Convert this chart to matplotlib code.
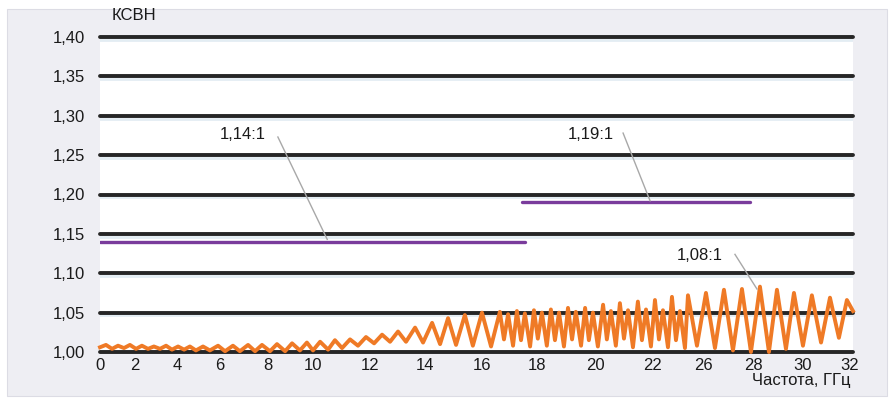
import numpy as np
import matplotlib
matplotlib.use("Agg")
import matplotlib.pyplot as plt
from matplotlib.patches import Rectangle

plt.rcParams['font.family'] = ['Liberation Sans Narrow', 'Liberation Sans', 'DejaVu Sans']

# ---------------- data ----------------
x_tick_values = [0, 2, 4, 6, 8, 10, 12, 14, 16, 18, 20, 22, 26, 28, 30, 32]
x_tick_labels = [str(v) for v in x_tick_values]
y_tick_values = [1.00, 1.05, 1.10, 1.15, 1.20, 1.25, 1.30, 1.35, 1.40]
y_tick_labels = ['1,00', '1,05', '1,10', '1,15', '1,20', '1,25', '1,30', '1,35', '1,40']

orange_freq = [
    0.0, 0.34, 0.69, 1.03, 1.37, 1.71, 2.05, 2.33, 2.62, 2.90, 3.19, 3.48, 3.76, 4.05, 4.33, 4.60, 4.88,
    5.21, 5.53, 5.91, 6.21, 6.54, 6.83, 7.17, 7.46, 7.75, 8.09, 8.40, 8.76, 9.07, 9.42, 9.73, 10.0,
    10.25, 10.53, 10.77, 11.02,
    11.30, 11.58, 11.86, 12.15, 12.44, 12.73, 13.02, 13.31, 13.64, 13.93, 14.25, 14.53, 14.81, 15.09,
    15.40, 15.68, 16.0, 16.33,
    16.65, 16.80, 16.95, 17.13, 17.27, 17.42, 17.56, 17.75, 17.89, 18.03, 18.17, 18.34,
    18.48, 18.62, 18.76, 18.93, 19.07, 19.21, 19.34, 19.52, 19.66, 19.79, 19.93, 20.10,
    20.28, 20.41, 20.55, 20.72, 20.86, 21.00, 21.14, 21.31, 21.48, 21.62, 21.76, 21.93,
    22.16, 22.48, 22.80, 23.20, 23.52, 23.84, 24.16, 24.56,
    24.80, 25.52, 26.12, 26.48, 26.84, 27.20, 27.56, 27.92, 28.28, 28.64, 28.96, 29.32,
    29.64, 30.0, 30.38, 30.77, 31.15, 31.53, 31.87, 32.13,
]
orange_vswr = [
    1.006, 1.009, 1.004, 1.008, 1.005, 1.009, 1.004, 1.008, 1.004, 1.007, 1.004, 1.008, 1.003, 1.007, 1.003, 1.007, 1.002,
    1.007, 1.002, 1.008, 1.001, 1.008, 1.001, 1.009, 1.001, 1.009, 1.001, 1.010, 1.001, 1.011, 1.002, 1.012, 1.002,
    1.013, 1.003, 1.015, 1.005,
    1.016, 1.008, 1.019, 1.011, 1.022, 1.013, 1.026, 1.013, 1.031, 1.012, 1.037, 1.010, 1.043, 1.009,
    1.047, 1.008, 1.050, 1.007,
    1.051, 1.016, 1.048, 1.008, 1.052, 1.015, 1.049, 1.007, 1.053, 1.017, 1.050, 1.008,
    1.054, 1.015, 1.050, 1.007, 1.056, 1.016, 1.051, 1.008, 1.056, 1.015, 1.050, 1.007,
    1.060, 1.016, 1.052, 1.008, 1.062, 1.017, 1.053, 1.006, 1.064, 1.015, 1.054, 1.007,
    1.066, 1.016, 1.053, 1.006, 1.070, 1.015, 1.052, 1.005,
    1.072, 1.008, 1.075, 1.005, 1.079, 1.002, 1.080, 1.000, 1.083, 1.000, 1.079, 1.004,
    1.075, 1.008, 1.072, 1.012, 1.069, 1.018, 1.066, 1.052,
]

limit_levels = [1.14, 1.19]
limit_start = [0.0, 17.45]
limit_end = [17.56, 27.88]

note_labels = ['1,14:1', '1,19:1', '1,08:1']
note_text_x = [6.95, 19.85, 25.75]
note_text_y = [1.276, 1.276, 1.123]
note_start_x = [8.44, 20.97, 27.28]
note_start_y = [1.273, 1.278, 1.124]
note_end_x = [10.5, 21.9, 28.16]
note_end_y = [1.143, 1.192, 1.080]

# ---------------- non-uniform x axis layout ----------------
layout_pos = [0, 35, 77, 120, 168, 213, 270, 325, 382, 437, 495, 553, 603, 653, 703, 750]
ext_vals = [-2] + x_tick_values + [34]
ext_pos = [-35] + layout_pos + [797]

def fwd(x):
    return np.interp(x, ext_vals, ext_pos)

def inv(y):
    return np.interp(y, ext_pos, ext_vals)

W, H = 894, 401
fig = plt.figure(figsize=(W / 100, H / 100), dpi=100)
fig.patch.set_facecolor('white')
fig.patches.append(Rectangle((7 / W, 1 - 396 / H), 880 / W, 387 / H,
                             transform=fig.transFigure, facecolor='#eeeef3',
                             edgecolor='#dcdce4', lw=0.8, zorder=-5))

ax = fig.add_axes([100 / W, 1 - 352 / H, 753 / W, 315 / H])
ax.set_zorder(2)
ax.set_facecolor('white')
ax.set_xscale('function', functions=(fwd, inv))
ax.set_xlim(0, 32.13)
ax.set_ylim(1.0, 1.4)

for s in ax.spines.values():
    s.set_visible(False)

for yv in y_tick_values:
    ax.axhline(yv - 0.0035, color='#e3edf3', lw=2.0, zorder=1)
    ax.axhline(yv, color='#262626', lw=2.8, zorder=2, clip_on=False,
               solid_capstyle='round')

ax.set_xticks(x_tick_values)
ax.set_xticklabels(x_tick_labels)
ax.set_yticks(y_tick_values)
ax.set_yticklabels(y_tick_labels)
ax.xaxis.set_minor_locator(matplotlib.ticker.NullLocator())
ax.tick_params(axis='both', length=0, labelsize=12, colors='#1a1a1a')
ax.tick_params(axis='x', pad=4)
ax.tick_params(axis='y', pad=11)

for lvl, x0, x1 in zip(limit_levels, limit_start, limit_end):
    ax.plot([x0, x1], [lvl, lvl], color='#7a3c9c', lw=2.4, zorder=3,
            solid_capstyle='round')

ax.plot(orange_freq, orange_vswr, color='#ef7a26', lw=2.8, zorder=4,
        clip_on=False, solid_joinstyle='round')

for lab, tx, ty, sx, sy, ex, ey in zip(note_labels, note_text_x, note_text_y,
                                       note_start_x, note_start_y, note_end_x, note_end_y):
    ax.text(tx, ty, lab, ha='center', va='center', fontsize=12, color='#1a1a1a', zorder=6)
    ax.plot([sx, ex], [sy, ey], color='#a8a8a8', lw=1.0, zorder=5)

fig.text(112 / W, 1 - 15 / H, 'КСВН', ha='left', va='center', fontsize=12, color='#1a1a1a')
fig.text(851 / W, 1 - 381 / H, 'Частота, ГГц', ha='right', va='center', fontsize=12, color='#1a1a1a')

fig.savefig('out.png', dpi=100, facecolor=fig.get_facecolor())
